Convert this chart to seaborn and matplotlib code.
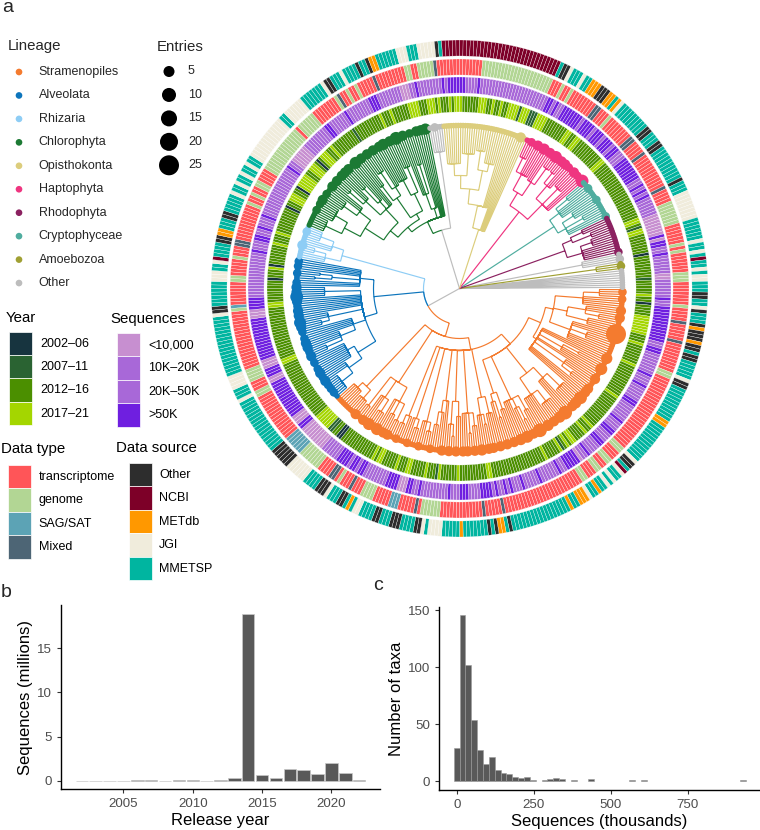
import numpy as np
import pandas as pd
import matplotlib
matplotlib.use("Agg")
import matplotlib.pyplot as plt
from matplotlib.patches import Rectangle
import seaborn as sns

# lineage legend
lineages = ["Stramenopiles", "Alveolata", "Rhizaria", "Chlorophyta", "Opisthokonta",
            "Haptophyta", "Rhodophyta", "Cryptophyceae", "Amoebozoa", "Other"]
lineage_colors = ["#f47b2f", "#0d75bc", "#8ecdf5", "#1c7a34", "#dccd7c",
                  "#ef3580", "#8b2160", "#4fad9f", "#a0a033", "#bdbdbd"]
entry_levels = [5, 10, 15, 20, 25]

year_labels = ["2002\u201306", "2007\u201311", "2012\u201316", "2017\u201321"]
year_colors = ["#17343f", "#2a6332", "#4b8f00", "#a4d600"]
seq_labels = ["<10,000", "10K\u201320K", "20K\u201350K", ">50K"]
seq_colors = ["#c78fd0", "#a868d8", "#a868d8", "#6f1fe0"]
type_labels = ["transcriptome", "genome", "SAG/SAT", "Mixed"]
type_colors = ["#ff5558", "#b2d694", "#5ca3b5", "#4d6575"]
source_labels = ["Other", "NCBI", "METdb", "JGI", "MMETSP"]
source_colors = ["#2d2d2d", "#7d0028", "#ff9800", "#f0ecdc", "#00b5a0"]

# rings, run lengths going clockwise from east
year_runs = """c2 d1 c2 a1 c4 d7 c3 d1 c7 d1 c12 d1 c13 d1 c2 d1 c4 d2 c1 d1 c1 b1 d1 c5 d1 c20 d2 c10 d1
c6 d1 b1 c3 d1 c5 d2 c3 d1 c5 d2 c1 d1 c13 a2 c2 b2 d6 c22 d2 c19 d2 c5
c3 a1 c3 d1 a1 c7 d1 c3 d1 c9 a1 c2 d3 c2 a1 d5 c2 d3 c1 a1 c1 d3 c2 d1 c9 b1 c10 d1 c3 d1 c6 d4 c3 d3 c1 d1
c3 d1 c1 d3 c6 d3 c2 d1 c2 d1 c2 d4 b1 d3 b3 d4 c8 d2 c2 d2 c10 d2 c23 d2 c1 b1 d2 c7 a1 c8 b1 c3""".split()
seq_runs = """b3 d1 b2 d12 b2 d2 b7 d1 b3 d1 b5 d2 b6 d1 b3 d2 b3 d2 b4 d1 b2 a1 d5 b2 d1 b6 d1 b5 d1 b3 d1 b1 d1 b2 d1 b1 d4 b4 d3
b3 d1 b9 d1 b2 d2 a3 d4 b8 d2 b1 d2 b1 d4 b6 a9 d2 a3 d13 a2 d3 a3 d14 a3 d4 b3
b12 d1 b3 d2 b2 d1 b3 d1 b17 d1 b2 a6 b9 d2 b6 d1 b8 d3 b8 a3 b2 d1 b8 d1 b1 d6 b4 d1 b23 d2 b1 d1 b2 d7 b1 d4 b1 d3 b1 d3 b1 d2 b3 d8
b2 d1 b1 d1 b1 d1 b6 a7 d1 a1 d2 b2 d1 b6 a2 b3""".split()
type_runs = """t5 g1 t4 x1 t5 x1 t9 g2 t25 g2 t3 g2 t2 g2 t3 g2 t25 x1 t5 x1
t13 g6 t1 x1 t5 s3 t5 g4 t3 x1 t3 g1 t1 x2 t4 g7 s6 t15 g2 t3 g4 t18 g1 s1 t7 g2 t5 g1 t3 x2 t11 g1 t2 g1 t2 g2 t4 g15 t1 g6 t8
g1 x1 t2 g1 t2 g1 t5 x1 t9 g2 t2 g5 x1 t14 g22 t3 g1 t2 g1 t8 x2 t3 g1 t8 x2 t4 x1 t11 x1 t4 g7 t6 g1 t1 g1 t6 g3 t2""".split()
source_runs = """M1 O2 M2 J1 O1 M3 O1 E1 O3 E1 O2 M1 O2 M5 J1 O2 M10 E2 M12 J1 O2 M1 N1 J1 M2 J1 M1 J1 M2 E1 M2 J1 E3 M2 E1
M17 O1 M1 E2 O1 M1 O1 M7 E1 M5 J4 M1 J1 O2 M4 O3 M3 O2 M4 J2 M1 E1 M1 O2 M3 J1 O3 M4 J6 O6 M16 J1 M3 J4 M17 J1 O2 M7
J3 M2 J1 N1 M4 O2 E2 M3 O2 M5 J1 M2 J1 M2 J1 M2 J1 M2 J13 M2 J6 M7 J1 O2 M3 J1 M1 M3 O1 M2 O1 E2 M6 J3 M3 J5 O1 M1
N34 M1 O2 J1 M3 J1 M2 E3 O3 E2 M1 E1 J1 M9 O2 M3 O2 M10 O1 M3 J8 M6 J1 M2 J1 M1 N1 M2 J1 M1 J2 M2""".split()

# tree: [node radius, children...]; an int child is that many tips,
# a (lineage, node) child starts a coloured clade
stramenopile_e = [88,
    [96, [124, [140, 4], 5], [110, [128, 3, [142, 3]], [132, 4]], [118, 3, [135, 4], 4]],
    [92, 3, [118, [135, 2], 3], 2, [128, 3, [140, 3]], 4]]
stramenopile_main = [62,
    [75, stramenopile_e,
     [108, [122, [140, 6], 4], [128, [142, 6], 6]],
     [122, [138, 3], [132, [146, 2], 2], 4],
     [110, [128, 3], [118, [135, 2], 2]]],
    [111, [128, 4], [128, [138, 2], 3]],
    [125, [138, 3], [145, 2], 3],
    [113, [128, 3], [136, [148, 2], 2]],
    [113, 2, [125, 2, [138, 3]]],
    [137, [146, 3], 3],
    [137, [146, 3], 2],
    [137, 2, [146, 3]]]
stramenopiles_tree = [50, stramenopile_main,
    [112, [128, [146, 3], [142, 3], 2], [132, [146, 4], 3], [125, [148, 3]]],
    [135, [146, 5], [142, 3, 3]]]
alveolata_tree = [86,
    [99, [120, [136, [150, 8], 3], [128, 5, 4]],
     [112, [128, [145, 3], 4], 5],
     [134, [142, 3], 3],
     8, [135, 2, 3]],
    [100, 3, [128, [145, 2], [140, 2]], 5]]
rhizaria_tree = [122, [138, 3, [150, 3]], [134, 3, [148, 5]]]
chlorophyta_tree = [74,
    [80,
     [90, [112, [130, [148, 6], [144, 7]], [126, [142, 5], 3]],
      [108, [128, [146, 3], 3], [118, [138, 3], 2], 3]],
     [86, [110, [128, 3], [120, [140, 4], 3]],
      [105, [122, 3, 3], [132, 4]]]],
    [84, [100, 3, [130, 3]], 2],
    5]
opisthokonta_tree = [62,
    [85, [100, [113, [125, 8], [135, 4, 3]], [120, [139, 5], [128, 3, 3]]], 4],
    6]
haptophyta_tree = [97,
    [112, [130, [145, 4], 5], [128, 3, [148, 4]]],
    [118, [135, [148, 3], 3], [140, 5], 3]]
cryptophyceae_tree = [113, [125, [140, 3], 3, 2], [122, [135, 4], [142, 3], 3]]
rhodophyta_tree = [112, [122, [135, 3], [142, 3]], [128, [140, 4], 6]]
amoebozoa_tree = [138, 3]
tree = [0,
    [36, ("Stramenopiles", stramenopiles_tree), ("Alveolata", alveolata_tree), ("Rhizaria", rhizaria_tree)],
    [61, ("Chlorophyta", chlorophyta_tree), [138, 6]],
    ("Opisthokonta", opisthokonta_tree),
    ("Haptophyta", haptophyta_tree),
    ("Cryptophyceae", cryptophyceae_tree),
    ("Rhodophyta", rhodophyta_tree),
    [125, 2, 2],
    ("Amoebozoa", amoebozoa_tree),
    8]

# tips with more than one entry
big_tip_index = [1, 4, 9, 12, 19, 30, 35, 40, 50, 59, 72, 78, 90, 98, 101, 109, 120, 130, 144, 148,
                 45, 47, 53, 55, 62, 65, 68, 75, 81, 84, 87, 93, 95, 104, 106, 112, 115, 125, 135, 139, 141, 151, 155,
                 212, 201, 206, 194, 188, 176, 170, 227, 234, 240,
                 168, 172, 174, 178, 180, 183, 186, 190, 192, 197, 199, 204, 208, 210, 214, 216, 218, 222, 225,
                 309, 302, 296, 290, 285, 276, 265, 258, 253, 313,
                 250, 255, 262, 268, 270, 272, 279, 282, 288, 293, 299, 305, 307,
                 361, 367, 374, 379, 382, 355, 386, 392, 400, 416, 419, 422, 350,
                 358, 364, 370, 372, 377]
big_tip_entries = [2, 2, 3, 3, 25, 4, 5, 3, 7, 9, 9, 5, 3, 4, 3, 3, 2, 2, 5, 5,
                   3, 3, 4, 3, 4, 3, 4, 3, 4, 3, 3, 3, 3, 3, 3, 3, 3, 2, 2, 3, 3, 3, 3,
                   7, 5, 3, 2, 2, 2, 2, 2, 3, 2,
                   2, 2, 3, 3, 2, 2, 3, 3, 3, 2, 3, 3, 2, 3, 3, 3, 2, 2, 2,
                   4, 2, 7, 4, 3, 5, 3, 2, 2, 2,
                   2, 3, 3, 3, 3, 3, 3, 3, 3, 3, 3, 3, 3,
                   4, 5, 2, 2, 7, 2, 2, 2, 2, 2, 2, 2, 3,
                   3, 3, 3, 3, 3]

# panel b
release_years = [2002, 2003, 2004, 2005, 2006, 2007, 2008, 2009, 2010, 2011, 2012,
                 2013, 2014, 2015, 2016, 2017, 2018, 2019, 2020, 2021, 2022]
release_seqs = [0.01, 0.01, 0.02, 0.02, 0.05, 0.06, 0.02, 0.03, 0.06, 0.01, 0.06,
                0.35, 18.9, 0.68, 0.27, 1.35, 1.2, 0.72, 2.05, 0.9, 0.05]

# panel c
seq_bin_centers = [0, 19, 38, 57, 76, 95, 114, 133, 152, 171, 190, 209, 228, 247,
                   285, 304, 323, 342, 380, 437, 570, 608, 931]
seq_bin_counts = [29, 146, 102, 54, 27, 15, 21, 10, 7, 6, 4, 3, 4, 1,
                  1, 2, 3, 2, 1, 2, 1, 1, 1]

W, H = 760, 830
CX, CY, R_AX = 459.5, 288.5, 252
TIP_R = 163
N_TIPS = 432
CELL = 2 * np.pi / N_TIPS
RING_BOTTOMS = [176.5, 195.5, 213.5, 232.5]
RING_HEIGHT = 16


def px_axes(fig, left, top, right, bottom, **kw):
    return fig.add_axes([left / W, 1 - bottom / H, (right - left) / W, (bottom - top) / H], **kw)


def tip_theta(i):
    return (-(i + 0.5) * CELL) % (2 * np.pi)


def expand(runs):
    return [r[0] for r in runs for _ in range(int(r[1:]))]


def draw_ring(ax, runs, codes, colors, bottom):
    cmap = dict(zip(codes, colors))
    cells = expand(runs)
    ax.bar(tip_theta(np.arange(len(cells))), RING_HEIGHT, width=2 * np.pi / len(cells), bottom=bottom,
           color=[cmap[c] for c in cells], edgecolor="white", linewidth=0.2)


class TreeLayout:
    def __init__(self):
        self.next_tip = 0
        self.tips = []
        self.lines = {name: ([], []) for name in lineages}

    def add(self, lineage, th, rs):
        xs, ys = self.lines[lineage]
        xs.extend(th)
        ys.extend(rs)
        xs.append(np.nan)
        ys.append(np.nan)

    def walk(self, node, lineage):
        r = node[0]
        kids = []
        for child in node[1:]:
            if isinstance(child, int):
                for _ in range(child):
                    self.tips.append((self.next_tip, lineage))
                    kids.append((float(self.next_tip), TIP_R, lineage))
                    self.next_tip += 1
            elif isinstance(child, tuple):
                kids.append((self.walk(child[1], child[0]), child[1][0], child[0]))
            else:
                kids.append((self.walk(child, lineage), child[0], lineage))
        mid = (kids[0][0] + kids[-1][0]) / 2
        for pos, child_r, child_lin in kids:
            th = -(pos + 0.5) * CELL
            self.add(child_lin, [th, th], [r, child_r])
            if r > 0:
                arc = -(np.linspace(mid, pos, 14) + 0.5) * CELL
                self.add(child_lin, list(arc), [r] * 14)
        return mid


sns.set_theme(style="ticks")
plt.rcParams["font.family"] = ["Liberation Sans", "DejaVu Sans"]

fig = plt.figure(figsize=(W / 100, H / 100), dpi=100, facecolor="white")

# panel a, circular tree
ax = px_axes(fig, CX - R_AX, CY - R_AX, CX + R_AX, CY + R_AX, projection="polar")
ax.set_axis_off()

draw_ring(ax, year_runs, "abcd", year_colors, RING_BOTTOMS[0])
draw_ring(ax, seq_runs, "abd", [seq_colors[0], seq_colors[1], seq_colors[3]], RING_BOTTOMS[1])
draw_ring(ax, type_runs, "tgsx", type_colors, RING_BOTTOMS[2])
draw_ring(ax, source_runs, "ONEJM", source_colors, RING_BOTTOMS[3])

layout = TreeLayout()
layout.walk(tree, "Other")
palette = dict(zip(lineages, lineage_colors))
for name in lineages[::-1]:
    xs, ys = layout.lines[name]
    ax.plot(xs, ys, color=palette[name], lw=0.85, solid_capstyle="butt")

tip_df = pd.DataFrame(layout.tips, columns=["tip", "lineage"])
tip_df["entries"] = 1
tip_df.loc[big_tip_index, "entries"] = big_tip_entries
tip_df["theta"] = tip_theta(tip_df["tip"].to_numpy())
tip_df["r"] = TIP_R
# marker area in points^2 for each entry count
dot_area = {1: 16, 2: 38, 3: 54, 4: 66, 5: 76, 7: 86, 9: 98, 25: 207}
sns.scatterplot(data=tip_df, x="theta", y="r", hue="lineage", palette=palette, size="entries",
                sizes=dot_area, linewidth=0, legend=False, ax=ax, zorder=3)
ax.set_xlabel("")
ax.set_ylabel("")
ax.set_ylim(0, R_AX)

# legends in pixel coordinates
ov = fig.add_axes([0, 0, 1, 1], facecolor="none")
ov.set_xlim(0, W)
ov.set_ylim(H, 0)
ov.set_axis_off()

LEG_SIZE = 9.0
TITLE_SIZE = 10.8


def swatches(x, y0, labels, colors, title, title_x, title_y, label_x, label_y0, w=23, step=23.4):
    ov.text(title_x, title_y, title, fontsize=TITLE_SIZE, va="center", ha="left", color="black")
    for i, (lab, col) in enumerate(zip(labels, colors)):
        ov.add_patch(Rectangle((x, y0 + i * step), w, step, facecolor=col, edgecolor="white", lw=0.5))
        ov.text(label_x, label_y0 + i * step, lab, fontsize=LEG_SIZE, va="center", ha="left", color="black")


ov.text(8, 46, "Lineage", fontsize=TITLE_SIZE, va="center", ha="left")
lin_y = [72 + i * 23.45 for i in range(len(lineages))]
sns.scatterplot(x=[19] * len(lineages), y=lin_y, hue=lineages, palette=palette, s=23, linewidth=0, legend=False, ax=ov)
for y, lab in zip(lin_y, lineages):
    ov.text(38.5, y, lab, fontsize=LEG_SIZE, va="center", ha="left")

ov.text(157, 47, "Entries", fontsize=TITLE_SIZE, va="center", ha="left")
ent_y = [71.5 + i * 23.45 for i in range(len(entry_levels))]
ent_area = {5: 63, 10: 102, 15: 133, 20: 168, 25: 207}
sns.scatterplot(x=[169] * 5, y=ent_y, size=entry_levels, sizes=ent_area, color="black", linewidth=0, legend=False, ax=ov)
for y, lab in zip(ent_y, entry_levels):
    ov.text(188, y, str(lab), fontsize=LEG_SIZE, va="center", ha="left")

swatches(9, 331.7, year_labels, year_colors, "Year", 6, 318, 40, 343.5)
swatches(117, 333, seq_labels, seq_colors, "Sequences", 110, 319, 148, 345)
swatches(8, 465, type_labels, type_colors, "Data type", 1, 449, 38.5, 477)
swatches(128.5, 463, source_labels, source_colors, "Data source", 116, 448, 159, 475)

ov.set_xlim(0, W)
ov.set_ylim(H, 0)
ov.text(2, 12, "a", fontsize=14, va="baseline", ha="left")
ov.text(1, 597, "b", fontsize=14, va="baseline", ha="left")
ov.text(373, 590, "c", fontsize=14, va="baseline", ha="left")

TICK_COLOR = "#4d4d4d"
BAR_COLOR = "#595959"


def style_panel(a, xlabel, ylabel):
    sns.despine(ax=a)
    for side in ["left", "bottom"]:
        a.spines[side].set_linewidth(1.0)
        a.spines[side].set_color("black")
    a.tick_params(labelsize=9.6, labelcolor=TICK_COLOR, color="#333333", length=3, width=0.8)
    a.set_xlabel(xlabel, fontsize=12, color="black", labelpad=2)
    a.set_ylabel(ylabel, fontsize=12, color="black", labelpad=3)


# panel b
ax_b = px_axes(fig, 61, 605, 380, 789)
sns.barplot(x=release_years, y=release_seqs, native_scale=True, color=BAR_COLOR, saturation=1,
            width=0.9, edgecolor="#c8c8c8", linewidth=0.5, ax=ax_b)
ax_b.set_xlim(2000.5, 2023.5)
ax_b.set_ylim(-0.94, 19.9)
ax_b.set_xticks([2005, 2010, 2015, 2020])
ax_b.set_yticks([0, 5, 10, 15])
style_panel(ax_b, "Release year", "Sequences (millions)")

# panel c
ax_c = px_axes(fig, 439.3, 606.7, 760, 790)
sns.histplot(x=seq_bin_centers, weights=seq_bin_counts, binwidth=19, binrange=(-9.5, 940.5),
             color=BAR_COLOR, alpha=1, edgecolor="none", ax=ax_c)
for bar in ax_c.patches:
    if bar.get_height() > 0:
        bar.set_edgecolor("#9a9a9a")
        bar.set_linewidth(0.4)
ax_c.set_xlim(-56.5, 985)
ax_c.set_ylim(-7.6, 152.9)
ax_c.set_xticks([0, 250, 500, 750])
ax_c.set_yticks([0, 50, 100, 150])
style_panel(ax_c, "Sequences (thousands)", "Number of taxa")

fig.savefig("out.png", dpi=100)
